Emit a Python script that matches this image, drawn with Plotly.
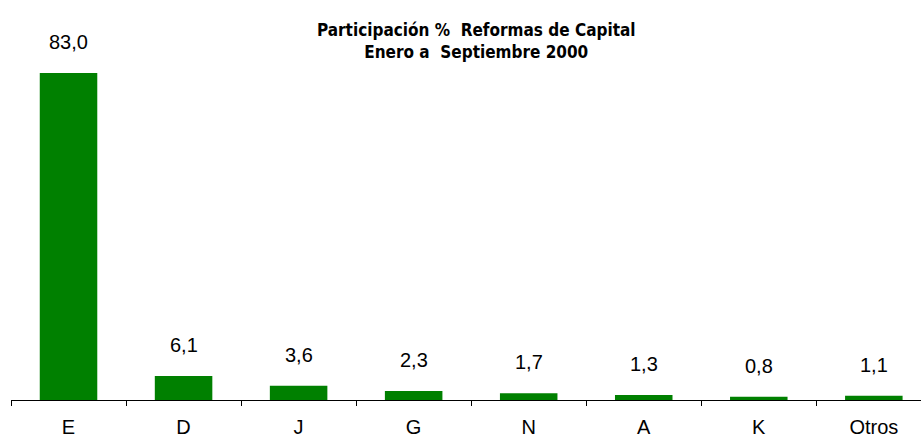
import plotly.graph_objects as go

categories = ["E", "D", "J", "G", "N", "A", "K", "Otros"]
values = [83.0, 6.1, 3.6, 2.3, 1.7, 1.3, 0.8, 1.1]
title_lines = ["Participación %  Reformas de Capital", "Enero a  Septiembre 2000"]

labels = [f"{v:.1f}".replace(".", ",") for v in values]

fig = go.Figure()
fig.add_trace(go.Bar(x=categories, y=values, marker=dict(color="#008000", line=dict(width=0)),
                     hoverinfo="skip"))

for c, v, t in zip(categories, values, labels):
    fig.add_annotation(x=c, y=v, text=t, showarrow=False, yanchor="middle", yshift=31,
                       font=dict(family="Liberation Sans, Arial, sans-serif", size=20, color="#000000"))

fig.add_annotation(xref="paper", yref="paper", x=0.512, y=0.97, xanchor="center", yanchor="top",
                   text="<b>" + title_lines[0] + "</b><br><b>" + title_lines[1] + "</b>",
                   showarrow=False, align="center",
                   font=dict(family="Liberation Sans Narrow, Arial Narrow, DejaVu Sans Condensed, sans-serif",
                             size=17, color="#000000"))

fig.update_layout(
    width=921, height=439,
    margin=dict(l=11, r=0, t=6, b=39),
    paper_bgcolor="white", plot_bgcolor="white",
    bargap=0.5, showlegend=False,
    xaxis=dict(type="category", range=[-0.5, 7.41], showline=True, linecolor="#000000", linewidth=1,
               ticks="outside", tickson="boundaries", ticklen=5, tickcolor="#000000",
               showgrid=False, ticklabelstandoff=9, automargin=False,
               tickfont=dict(family="Liberation Sans, Arial, sans-serif", size=20, color="#000000")),
    yaxis=dict(range=[0, 100], visible=False, showgrid=False, zeroline=False, automargin=False),
)

fig.write_html("out.html", config={"displayModeBar": False},
               post_script="document.body.style.margin='0';document.body.style.overflow='hidden';")
